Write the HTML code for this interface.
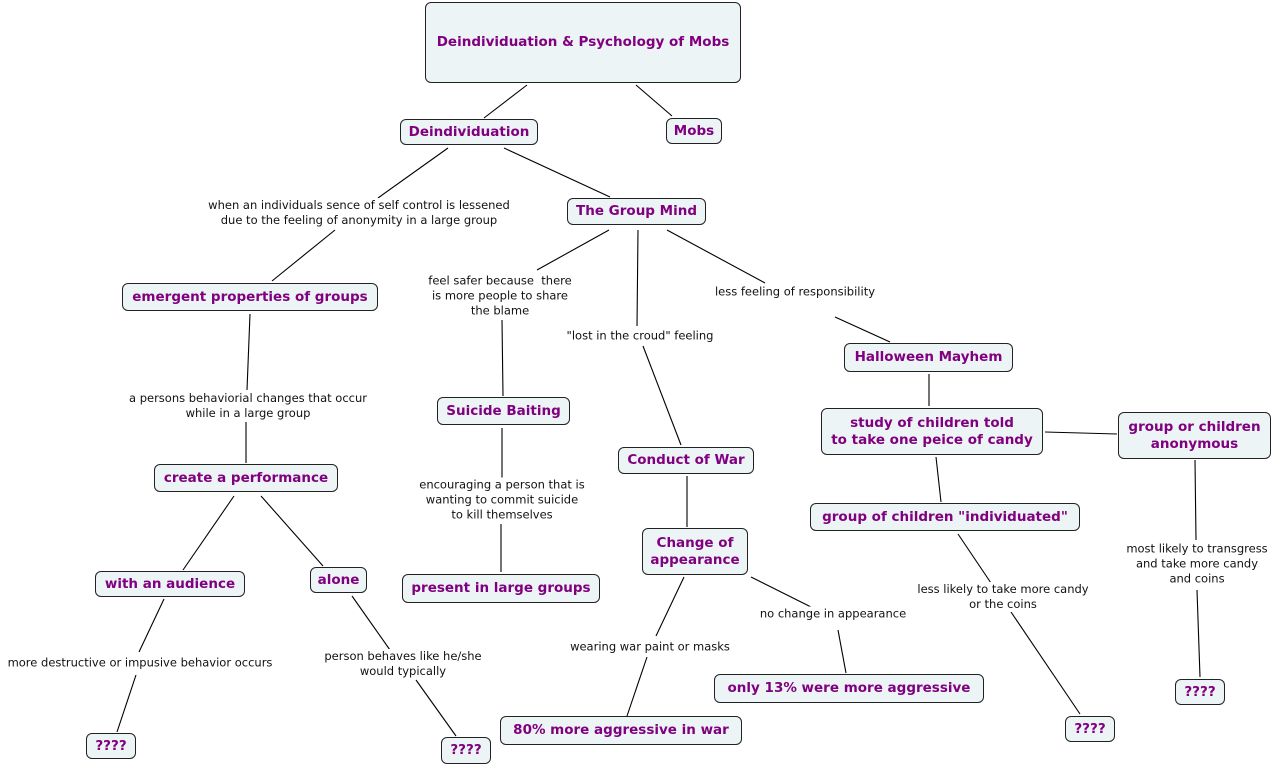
<!DOCTYPE html>
<html><head><meta charset="utf-8"><style>
body{margin:0;width:1275px;height:766px;background:#fff;position:relative;overflow:hidden;font-family:"DejaVu Sans","Liberation Sans",sans-serif}
.n{position:absolute;box-sizing:border-box;border:1px solid #222;border-radius:6px;background:#edf4f5;color:#800080;font-weight:bold;font-size:13.5px;display:flex;align-items:center;justify-content:center;text-align:center;line-height:17px;white-space:nowrap}
.l{position:absolute;font-size:11.5px;color:#111;text-align:center;transform:translate(-50%,-50%);line-height:15px;white-space:nowrap;background:#fff}
svg{position:absolute;left:0;top:0}
</style></head><body>
<svg width="1275" height="766" stroke="#000" stroke-width="1.1" fill="none">
<line x1="527" y1="85" x2="484" y2="118"/><line x1="636" y1="85" x2="672" y2="116"/>
<line x1="448" y1="148" x2="378" y2="198"/><line x1="335" y1="230" x2="272" y2="281"/>
<line x1="504" y1="148" x2="610" y2="197"/>
<line x1="609" y1="230" x2="537" y2="270"/><line x1="502" y1="320" x2="503" y2="396"/>
<line x1="638" y1="230" x2="637" y2="326"/><line x1="643" y1="346" x2="681" y2="445"/>
<line x1="667" y1="230" x2="765" y2="283"/><line x1="835" y1="317" x2="890" y2="342"/>
<line x1="250" y1="314" x2="247" y2="390"/><line x1="246" y1="422" x2="246" y2="463"/>
<line x1="502" y1="428" x2="502" y2="478"/><line x1="501" y1="524" x2="501" y2="572"/>
<line x1="687" y1="476" x2="687" y2="527"/>
<line x1="929" y1="374" x2="929" y2="406"/>
<line x1="1045" y1="432" x2="1117" y2="434"/>
<line x1="936" y1="457" x2="941" y2="502"/>
<line x1="1195" y1="460" x2="1196" y2="540"/><line x1="1197" y1="590" x2="1200" y2="677"/>
<line x1="958" y1="534" x2="993" y2="586"/><line x1="1011" y1="612" x2="1080" y2="714"/>
<line x1="234" y1="496" x2="183" y2="570"/><line x1="261" y1="496" x2="323" y2="566"/>
<line x1="164" y1="599" x2="139" y2="652"/><line x1="136" y1="675" x2="117" y2="732"/>
<line x1="352" y1="596" x2="390" y2="650"/><line x1="416" y1="680" x2="456" y2="736"/>
<line x1="684" y1="577" x2="656" y2="636"/><line x1="647" y1="657" x2="627" y2="716"/>
<line x1="751" y1="577" x2="813" y2="608"/><line x1="838" y1="630" x2="846" y2="673"/>
</svg>
<div class="n" style="left:425px;top:2px;width:316px;height:81px">Deindividuation &amp; Psychology of Mobs</div>
<div class="n" style="left:400px;top:119px;width:138px;height:26px">Deindividuation</div>
<div class="n" style="left:666px;top:118px;width:56px;height:26px">Mobs</div>
<div class="n" style="left:567px;top:198px;width:139px;height:27px">The Group Mind</div>
<div class="n" style="left:122px;top:283px;width:256px;height:28px">emergent properties of groups</div>
<div class="n" style="left:437px;top:397px;width:133px;height:28px">Suicide Baiting</div>
<div class="n" style="left:844px;top:343px;width:169px;height:29px">Halloween Mayhem</div>
<div class="n" style="left:618px;top:447px;width:136px;height:27px">Conduct of War</div>
<div class="n" style="left:821px;top:408px;width:222px;height:47px">study of children told<br>to take one peice of candy</div>
<div class="n" style="left:1118px;top:412px;width:153px;height:47px">group or children<br>anonymous</div>
<div class="n" style="left:154px;top:464px;width:184px;height:28px">create a performance</div>
<div class="n" style="left:810px;top:503px;width:270px;height:28px">group of children "individuated"</div>
<div class="n" style="left:642px;top:528px;width:106px;height:47px">Change of<br>appearance</div>
<div class="n" style="left:95px;top:571px;width:150px;height:26px">with an audience</div>
<div class="n" style="left:310px;top:567px;width:57px;height:26px">alone</div>
<div class="n" style="left:402px;top:574px;width:198px;height:29px">present in large groups</div>
<div class="n" style="left:714px;top:674px;width:270px;height:29px">only 13% were more aggressive</div>
<div class="n" style="left:500px;top:716px;width:242px;height:29px">80% more aggressive in war</div>
<div class="n" style="left:86px;top:733px;width:50px;height:26px">????</div>
<div class="n" style="left:441px;top:737px;width:50px;height:27px">????</div>
<div class="n" style="left:1065px;top:716px;width:50px;height:26px">????</div>
<div class="n" style="left:1175px;top:679px;width:50px;height:26px">????</div>
<div class="l" style="left:359px;top:213px">when an individuals sence of self control is lessened<br>due to the feeling of anonymity in a large group</div>
<div class="l" style="left:500px;top:296px">feel safer because&nbsp; there<br>is more people to share<br>the blame</div>
<div class="l" style="left:640px;top:336px">"lost in the croud" feeling</div>
<div class="l" style="left:795px;top:292px">less feeling of responsibility</div>
<div class="l" style="left:248px;top:406px">a persons behaviorial changes that occur<br>while in a large group</div>
<div class="l" style="left:502px;top:500px">encouraging a person that is<br>wanting to commit suicide<br>to kill themselves</div>
<div class="l" style="left:1197px;top:564px">most likely to transgress<br>and take more candy<br>and coins</div>
<div class="l" style="left:1003px;top:597px">less likely to take more candy<br>or the coins</div>
<div class="l" style="left:140px;top:663px">more destructive or impusive behavior occurs</div>
<div class="l" style="left:403px;top:664px">person behaves like he/she<br>would typically</div>
<div class="l" style="left:650px;top:647px">wearing war paint or masks</div>
<div class="l" style="left:833px;top:614px">no change in appearance</div>
</body></html>
